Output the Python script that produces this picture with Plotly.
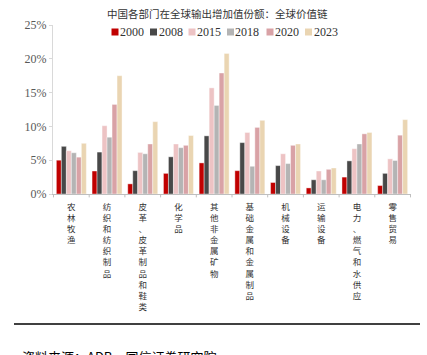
import plotly.graph_objects as go

categories = ["农林牧渔", "纺织和纺织制品", "皮革、皮革制品和鞋类", "化学品", "其他非金属矿物",
              "基础金属和金属制品", "机械设备", "运输设备", "电力、燃气和水供应", "零售贸易"]
years = ["2000", "2008", "2015", "2018", "2020", "2023"]
v2000 = [5.0, 3.4, 1.5, 3.05, 4.6, 3.45, 1.7, 0.9, 2.5, 1.25]
v2008 = [7.05, 6.2, 3.45, 5.5, 8.6, 7.6, 4.2, 2.1, 4.9, 3.05]
v2015 = [6.4, 10.1, 6.15, 7.4, 15.7, 9.1, 5.95, 3.4, 6.7, 5.2]
v2018 = [6.1, 8.4, 5.95, 6.85, 13.1, 4.1, 4.5, 2.1, 7.4, 4.95]
v2020 = [5.45, 13.25, 7.4, 7.2, 17.9, 9.85, 7.2, 3.65, 8.9, 8.7]
v2023 = [7.5, 17.5, 10.7, 8.65, 20.8, 10.9, 7.4, 3.85, 9.1, 11.0]
series = [v2000, v2008, v2015, v2018, v2020, v2023]
colors = ["#C00000", "#484848", "#EDC3C4", "#B4B4B4", "#D9A2A6", "#EAD5B2"]
title_text = "中国各部门在全球输出增加值份额：全球价值链"
source_text = "资料来源：ADB，国信证券研究院"

tick_text = ["<br>".join(list(c)) for c in categories]

# layout geometry (pixels)
W, H = 427, 355
L, R, T, B = 53, 16, 25, 161
PW, PH = W - L - R, H - T - B


def px(X):
    return (X - L) / PW


def py(Y):
    return (H - B - Y) / PH


fig = go.Figure()
for name, vals, col in zip(years, series, colors):
    fig.add_trace(go.Bar(
        x=categories, y=vals, name=name, showlegend=False,
        marker=dict(color=col, line=dict(color="white", width=0.4)),
    ))

cjk = "Noto Sans CJK SC"
serif = "Liberation Serif"

fig.update_layout(
    width=W, height=H,
    margin=dict(l=L, r=R, t=T, b=B, autoexpand=False),
    paper_bgcolor="white", plot_bgcolor="white",
    barmode="group", bargap=0.16, bargroupgap=0.0,
    showlegend=False,
    font=dict(family=cjk, color="#333333"),
)
fig.add_annotation(text=title_text, xref="paper", yref="paper",
                   x=px(217.5), y=py(14), xanchor="center", yanchor="middle",
                   showarrow=False, font=dict(family=cjk, size=10.5, color="#333333"))

# custom legend
leg_x = [111.5, 150, 188.5, 227, 266.5, 305]
for X, name, col in zip(leg_x, years, colors):
    fig.add_shape(type="rect", xref="paper", yref="paper",
                  x0=px(X), x1=px(X + 7), y0=py(35.5), y1=py(28.5),
                  fillcolor=col, line=dict(width=0))
    fig.add_annotation(text=name, xref="paper", yref="paper",
                       x=px(X + 7.5), y=py(32), xanchor="left", yanchor="middle",
                       showarrow=False, xshift=-1,
                       font=dict(family=serif, size=12, color="#333333"))

fig.update_yaxes(
    range=[0, 25], dtick=5, ticksuffix="%", automargin=False,
    showgrid=False, zeroline=False,
    showline=True, linecolor="#D9D9D9", linewidth=1,
    ticks="outside", ticklen=3, tickcolor="#D9D9D9",
    tickfont=dict(family=serif, size=12, color="#595959"),
)
fig.update_xaxes(
    tickmode="array", tickvals=categories, ticktext=tick_text, automargin=False,
    showgrid=False, showline=True, linecolor="#BFBFBF", linewidth=1,
    ticks="", tickfont=dict(family=cjk, size=8.5, color="#333333"),
    tickangle=0, ticklabelstandoff=5,
)
# group separator ticks on x axis
for i in range(len(categories) + 1):
    fig.add_shape(type="line", xref="x", yref="paper",
                  x0=i - 0.5, x1=i - 0.5, y0=0, y1=-0.02,
                  line=dict(color="#BFBFBF", width=1))

fig.add_shape(type="line", xref="paper", yref="paper",
              x0=px(14), x1=px(420), y0=py(324), y1=py(324),
              line=dict(color="#404040", width=2))
fig.add_annotation(text=source_text, xref="paper", yref="paper",
                   x=px(20), y=py(356), xanchor="left", yanchor="middle",
                   showarrow=False, font=dict(family=cjk, size=13, color="#000000"))

fig.write_html("out.html", config={"displayModeBar": False},
               post_script="document.body.style.margin='0';")
